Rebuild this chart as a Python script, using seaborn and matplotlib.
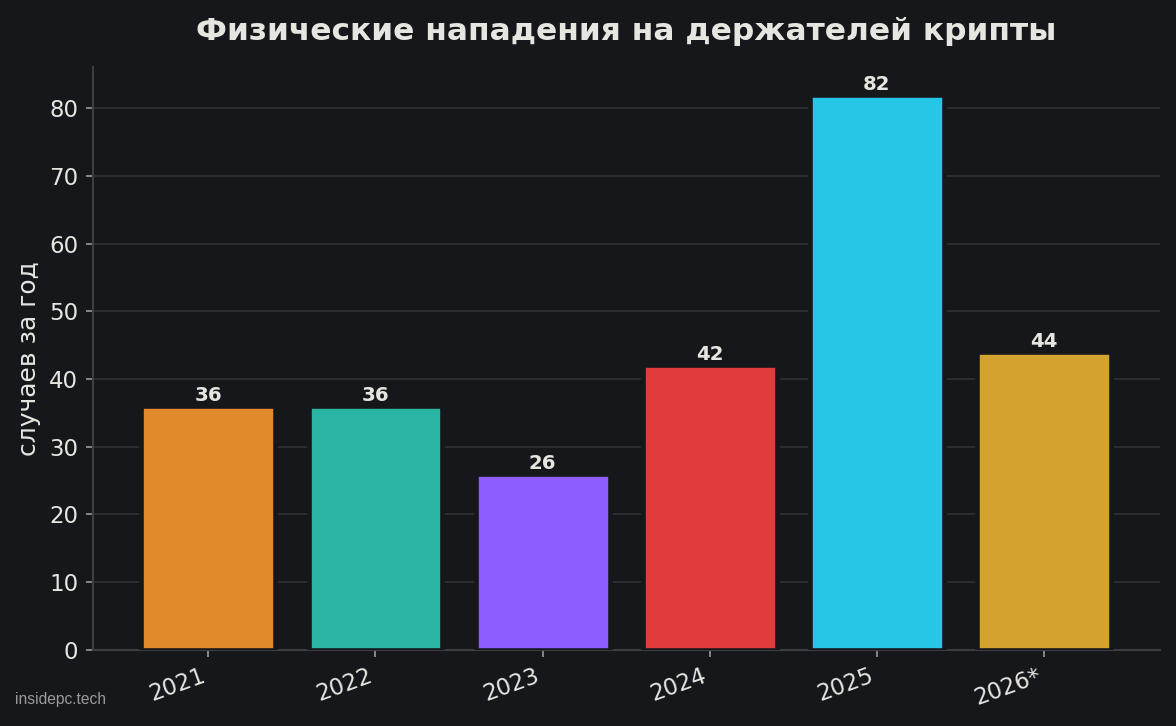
import matplotlib
matplotlib.use("Agg")
import matplotlib.pyplot as plt
import seaborn as sns
import pandas as pd

# Данные
years = ["2021", "2022", "2023", "2024", "2025", "2026*"]
cases = [36, 36, 26, 42, 82, 44]
colors = ["#E08A2C", "#2BB5A5", "#8C5CFF", "#E03C3C", "#28C6E6", "#D4A22E"]

bg = "#16171B"
text_col = "#E6E6E1"

sns.set_theme(style="dark")
plt.rcParams["font.family"] = ["DejaVu Sans"]

df = pd.DataFrame({"year": years, "cases": cases})

fig, ax = plt.subplots(figsize=(7.84, 4.84), dpi=150)
fig.patch.set_facecolor(bg)
ax.set_facecolor(bg)

sns.barplot(data=df, x="year", y="cases", hue="year", palette=colors,
            legend=False, ax=ax, edgecolor=bg, linewidth=2.2, zorder=3,
            saturation=1)

for c in ax.containers:
    ax.bar_label(c, fmt="%d", padding=0.5, color=text_col, fontsize=9.5,
                 fontweight="bold")

ax.set_ylim(0, 86.1)
ax.set_xlim(-0.69, 5.69)
ax.yaxis.grid(True, color="#2A2C31", linewidth=1, zorder=0)
ax.xaxis.grid(False)

for s in ["top", "right"]:
    ax.spines[s].set_visible(False)
for s in ["left", "bottom"]:
    ax.spines[s].set_color("#3C3E44")
    ax.spines[s].set_linewidth(1)

ax.tick_params(axis="both", colors="#9A9A9A", labelcolor=text_col,
               labelsize=11, length=3.5, width=0.8, left=True, bottom=True)
plt.setp(ax.get_xticklabels(), rotation=20, ha="right", rotation_mode="default")

ax.set_xlabel("")
ax.set_ylabel("случаев за год", color=text_col, fontsize=12)
ax.set_title("Физические нападения на держателей крипты", color=text_col,
             fontsize=15, fontweight="bold", pad=13)

fig.text(0.013, 0.03, "insidepc.tech", color="#9A9A9A", fontsize=7.5,
         family=["Liberation Sans", "DejaVu Sans"])

fig.subplots_adjust(left=0.079, right=0.986, bottom=0.105, top=0.908)
fig.savefig("out.png", dpi=150, facecolor=bg)
